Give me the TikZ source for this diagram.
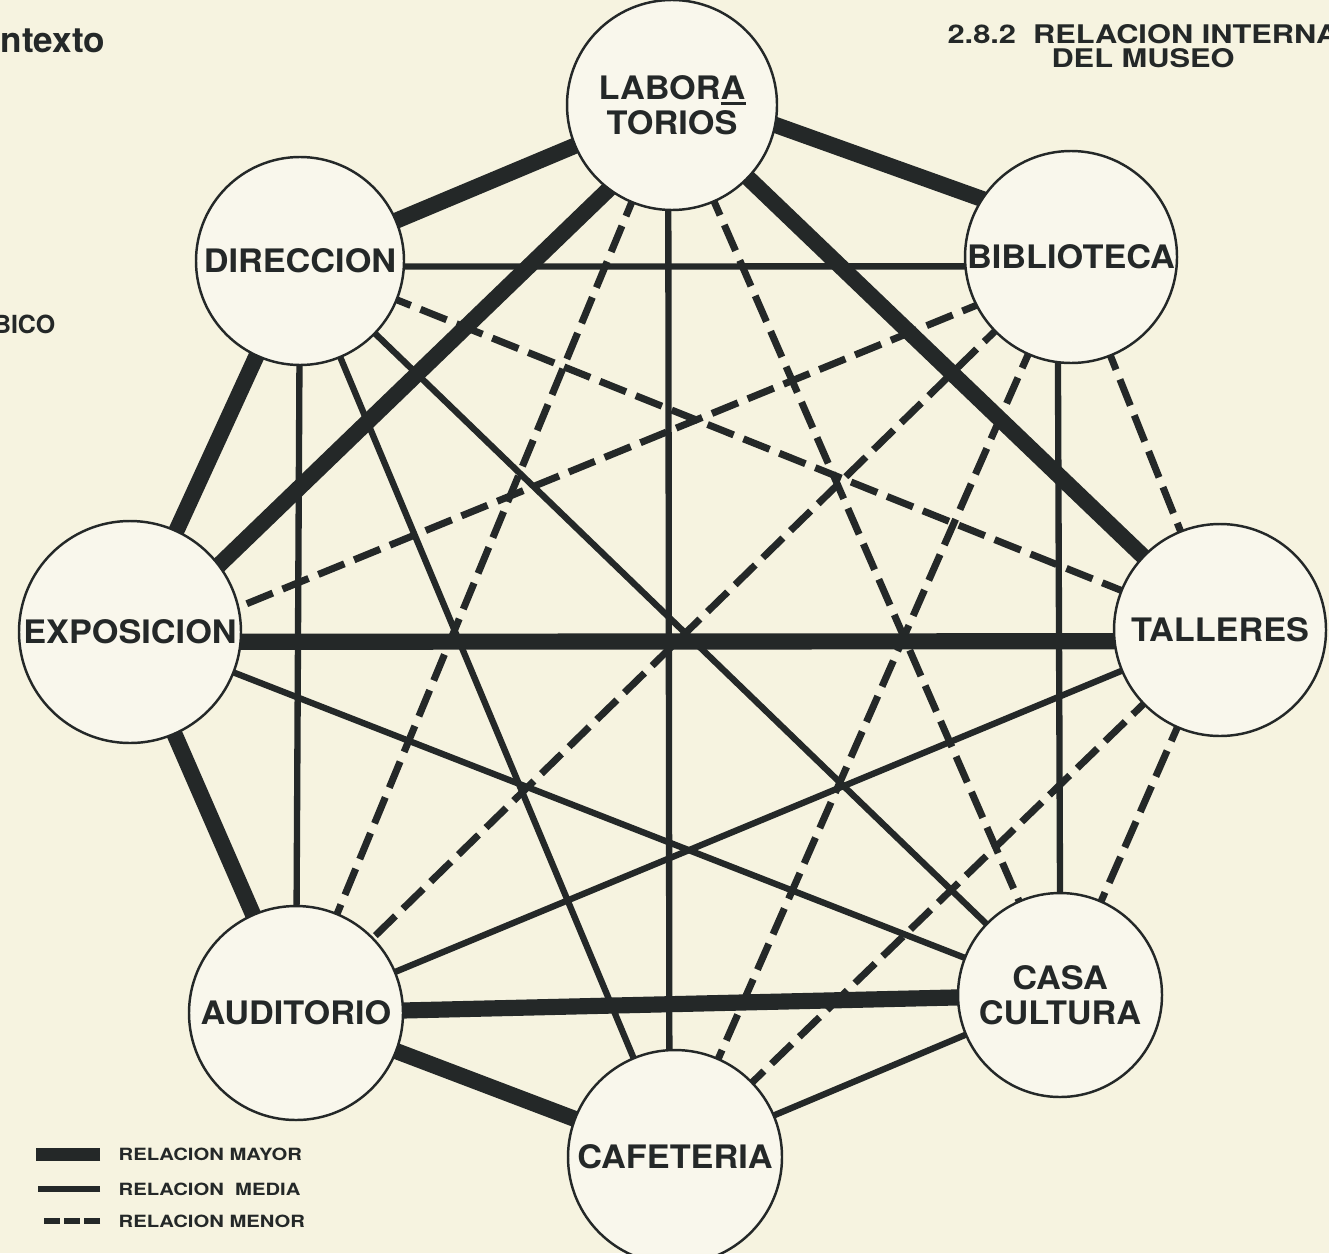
\documentclass[tikz,border=0pt]{standalone}
\usepackage{fontspec}
\setmainfont{TeX Gyre Heros}
\newfontfamily\widefont[FakeStretch=1.2]{TeX Gyre Heros}
\newfontfamily\salafont[FakeStretch=1.06]{TeX Gyre Heros}
\usepackage{tikz}
\usetikzlibrary{backgrounds}
\definecolor{papel}{RGB}{246,243,224}
\definecolor{circfill}{RGB}{249,247,236}
\definecolor{tinta}{RGB}{36,40,40}

\begin{document}
\begin{tikzpicture}[
  sala/.style={circle, draw=tinta, line width=0.7pt, fill=circfill, inner sep=0pt, align=center,
               text=tinta, font=\salafont\fontsize{9.2}{9.8}\selectfont\bfseries},
  rel/.style={draw=tinta, shorten <=-4pt, shorten >=-4pt},
  mayor/.style={rel, line width=4.6pt},
  media/.style={rel, line width=1.8pt},
  menor/.style={rel, line width=2pt, dash pattern=on 8pt off 3pt},
  ley/.style={font=\widefont\fontsize{4.8}{5}\selectfont\bfseries, text=tinta, anchor=west, inner sep=0pt},
  tit/.style={text=tinta, inner sep=0pt}]
\useasboundingbox (0,0) rectangle (13.29,-12.53);
% titles
\node[tit, font=\fontsize{10}{12}\selectfont\bfseries, anchor=base west] (contexto) at (0,-0.53) {ntexto};
\node[tit, font=\fontsize{7.1}{8}\selectfont\bfseries, anchor=base east] (grafico) at (0.56,-3.33) {BICO};
\node[tit, font=\widefont\fontsize{7.3}{6.8}\selectfont\bfseries, align=center] (titulo) at (11.43,-0.46)
  {2.8.2\ \ RELACION INTERNA\\DEL MUSEO};
% rooms
\node[sala, minimum size=2.10cm] (lab) at (6.72,-1.05)
  {LABOR\makebox[0pt][l]{\rule[-1.6pt]{0.8em}{0.8pt}}A\\TORIOS};
\node[sala, minimum size=2.08cm] (dir) at (3.00,-2.61) {DIRECCION};
\node[sala, minimum size=2.12cm] (bib) at (10.71,-2.57) {BIBLIOTECA};
\node[sala, minimum size=2.22cm] (expo) at (1.30,-6.32) {EXPOSICION};
\node[sala, minimum size=2.12cm] (tall) at (12.20,-6.30) {TALLERES};
\node[sala, minimum size=2.14cm] (aud) at (2.96,-10.13) {AUDITORIO};
\node[sala, minimum size=2.04cm] (casa) at (10.60,-9.95) {CASA\\CULTURA};
\node[sala, minimum size=2.14cm] (caf) at (6.75,-11.57) {CAFETERIA};
% relations, behind the rooms
\begin{scope}[on background layer]
\fill[papel] (0,0) rectangle (13.29,-12.53);
% mayor
\draw[mayor] (lab)--(dir); \draw[mayor] (lab.-11)--(bib.147);
\draw[mayor] (lab.-127)--(expo.37); \draw[mayor] (lab)--(tall);
\draw[mayor] (dir)--(expo); \draw[mayor] (expo.-5)--(tall.186);
\draw[mayor] (expo)--(aud); \draw[mayor] (aud)--(casa); \draw[mayor] (aud)--(caf);
% media
\draw[media] (dir.-3)--(bib.185); \draw[media] (lab.-92)--(caf.93);
\draw[media] (dir)--(aud); \draw[media] (bib.-97)--(casa.90);
\draw[media] (dir)--(caf); \draw[media] (dir)--(casa);
\draw[media] (expo)--(casa); \draw[media] (aud)--(tall); \draw[media] (casa)--(caf);
% menor
\draw[menor] (dir)--(tall); \draw[menor] (bib.207)--(expo.13);
\draw[menor] (lab)--(aud); \draw[menor] (lab)--(casa);
\draw[menor] (bib)--(caf); \draw[menor] (bib)--(aud);
\draw[menor] (bib)--(tall); \draw[menor] (tall)--(casa); \draw[menor] (tall)--(caf);
\end{scope}
% legend
\node[ley] (leymayor) at (1.18,-11.54) {RELACION MAYOR};
\node[ley] (leymedia) at (1.18,-11.89) {RELACION\ \ MEDIA};
\node[ley] (leymenor) at (1.18,-12.21) {RELACION MENOR};
\draw[tinta, line width=3.7pt] ([xshift=-0.18cm]leymayor.west) -- ++(-0.64,0);
\draw[tinta, line width=1.7pt] ([xshift=-0.18cm]leymedia.west) -- ++(-0.62,0);
\draw[tinta, line width=1.8pt, dash pattern=on 4.5pt off 1.2pt] ([xshift=-0.18cm]leymenor.west) -- ++(-0.58,0);
\end{tikzpicture}
\end{document}
